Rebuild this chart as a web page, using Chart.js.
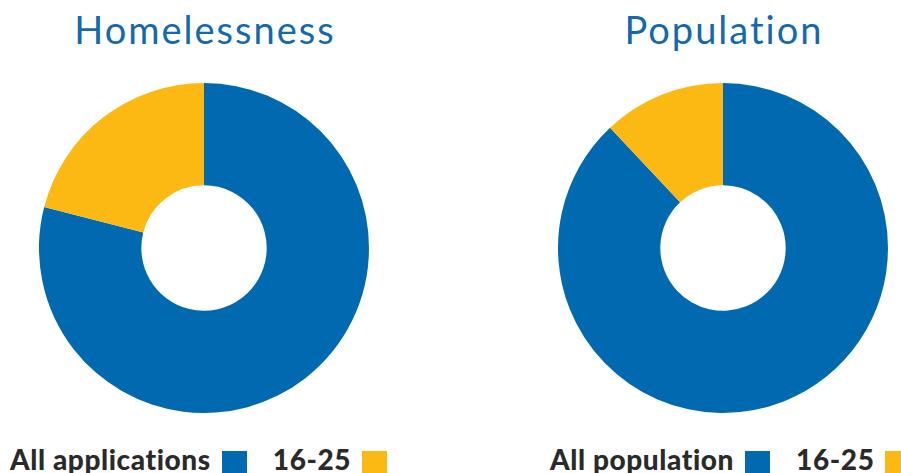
<!DOCTYPE html>
<html>
<head>
<meta charset="utf-8">
<script src="https://cdn.jsdelivr.net/npm/chart.js@4"></script>
<style>
  html, body { margin: 0; padding: 0; background: #fff; }
  body { width: 901px; height: 473px; position: relative; overflow: hidden; font-family: Lato, 'Open Sans', sans-serif; }
  .title { position: absolute; top: 6px; width: 400px; margin-left: -200px; text-align: center; color: #1468ae; font-size: 38px; font-weight: 400; letter-spacing: 2px; }
  .wrap { position: absolute; top: 83px; width: 330px; height: 330px; }
  .legend { position: absolute; top: 443px; white-space: nowrap; font-size: 28px; font-weight: 900; color: #2a2a2a; line-height: 32px; letter-spacing: 0.6px; }
  .legend .item { display: inline-block; margin-right: 26px; }
  .legend .box { display: inline-block; width: 25px; height: 23px; vertical-align: -4px; margin-left: 11px; }
</style>
</head>
<body>
<div class="title" style="left:205px">Homelessness</div>
<div class="title" style="left:724px">Population</div>
<div class="wrap" style="left:39px"><canvas id="c1"></canvas></div>
<div class="wrap" style="left:558px"><canvas id="c2"></canvas></div>
<div class="legend" id="leg1" style="left:10px"></div>
<div class="legend" id="leg2" style="left:550px"></div>
<script>
var colors = ['#0069b0', '#fdb913'];
var homelessLabels = ['All applications', '16-25'];
var homelessValues = [79, 21];
var populationLabels = ['All population', '16-25'];
var populationValues = [88, 12];

function donut(id, labels, values) {
  new Chart(document.getElementById(id).getContext('2d'), {
    type: 'doughnut',
    data: {
      labels: labels,
      datasets: [{ data: values, backgroundColor: colors, borderWidth: 0 }]
    },
    options: {
      responsive: true, maintainAspectRatio: false, animation: false,
      cutout: '38%',
      layout: { padding: 0 },
      plugins: { legend: { display: false }, tooltip: { enabled: false } }
    }
  });
}

function legend(id, labels) {
  document.getElementById(id).innerHTML = labels.map(function (l, i) {
    return '<span class="item">' + l + '<span class="box" style="background:' + colors[i] + '"></span></span>';
  }).join('');
}

donut('c1', homelessLabels, homelessValues);
donut('c2', populationLabels, populationValues);
legend('leg1', homelessLabels);
legend('leg2', populationLabels);
</script>
</body>
</html>
